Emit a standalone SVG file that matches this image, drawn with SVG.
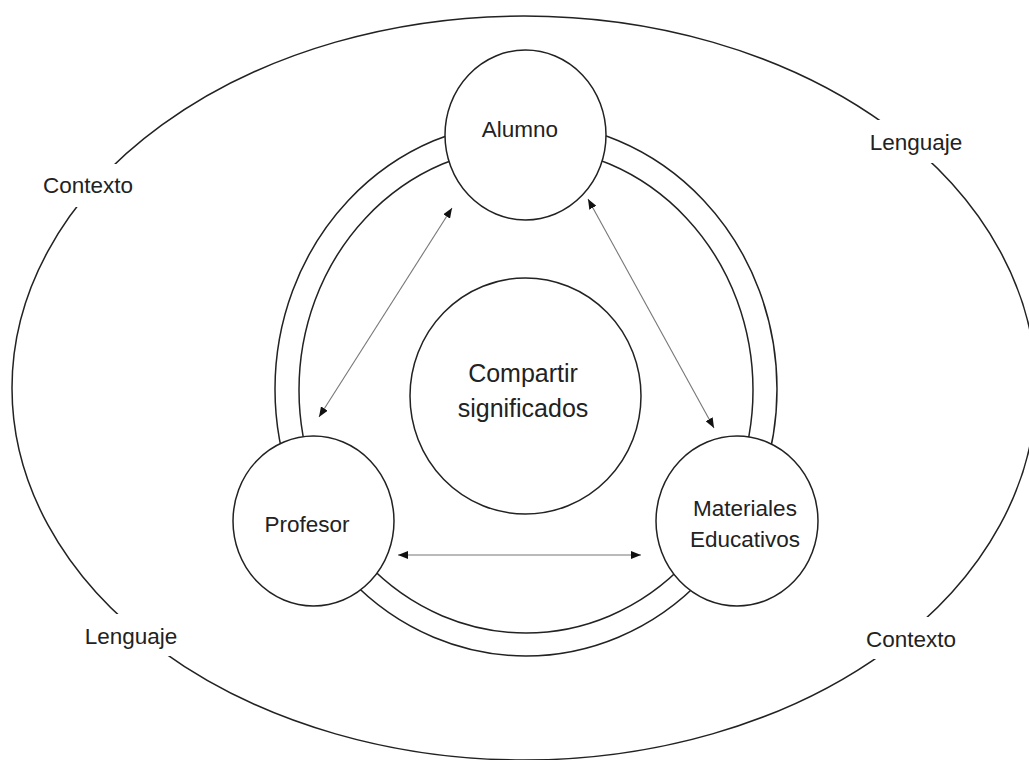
<svg xmlns="http://www.w3.org/2000/svg" width="1029" height="760" viewBox="0 0 1029 760">
<style>
.line{fill:none;stroke:#222;stroke-width:1.5}
.node{fill:#fff;stroke:#222;stroke-width:1.5}
.gap{fill:#fff;stroke:none}
.lbl{font-family:"Liberation Sans",Arial,sans-serif;font-size:22.5px;fill:#222;text-anchor:middle}
.big{font-size:25px}
.conn{fill:none;stroke:#777;stroke-width:1.1}
</style>
<defs>
<marker id="ah" viewBox="0 0 10 8" refX="10" refY="4" markerWidth="10" markerHeight="8" markerUnits="userSpaceOnUse" orient="auto-start-reverse">
<path d="M0,0 L10,4 L0,8 Z" fill="#111"/>
</marker>
</defs>
<rect width="1029" height="760" fill="#fff"/>
<g id="outer">
<ellipse class="line" cx="524" cy="388" rx="512" ry="372"/>
<rect class="gap" x="36" y="164" width="104" height="43"/>
<rect class="gap" x="865" y="120" width="103" height="43"/>
<rect class="gap" x="80" y="614" width="102" height="42"/>
<rect class="gap" x="860" y="617" width="102" height="42"/>
</g>
<g id="labels">
<text class="lbl" x="88" y="193">Contexto</text>
<text class="lbl" x="916" y="150">Lenguaje</text>
<text class="lbl" x="131" y="644">Lenguaje</text>
<text class="lbl" x="911" y="647">Contexto</text>
</g>
<g id="rings">
<ellipse class="line" cx="526" cy="389" rx="251" ry="267"/>
<ellipse class="line" cx="526" cy="390" rx="227" ry="243"/>
</g>
<g id="connectors">
<line class="conn" x1="452" y1="208" x2="319" y2="417" marker-start="url(#ah)" marker-end="url(#ah)"/>
<line class="conn" x1="588" y1="199" x2="714" y2="428" marker-start="url(#ah)" marker-end="url(#ah)"/>
<line class="conn" x1="398" y1="555" x2="641" y2="555" stroke="#555" marker-start="url(#ah)" marker-end="url(#ah)"/>
</g>
<g id="alumno">
<ellipse class="node" cx="525.5" cy="135" rx="80.5" ry="85"/>
<text class="lbl" x="520" y="137">Alumno</text>
</g>
<g id="profesor">
<ellipse class="node" cx="313.5" cy="521" rx="80.5" ry="85"/>
<text class="lbl" x="307" y="532">Profesor</text>
</g>
<g id="materiales">
<ellipse class="node" cx="737" cy="521" rx="81" ry="85"/>
<text class="lbl" x="745" y="516">Materiales</text>
<text class="lbl" x="745" y="547">Educativos</text>
</g>
<g id="compartir">
<ellipse class="node" cx="525.5" cy="396" rx="115.5" ry="118"/>
<text class="lbl big" x="523" y="382">Compartir</text>
<text class="lbl big" x="523" y="417">significados</text>
</g>
</svg>
